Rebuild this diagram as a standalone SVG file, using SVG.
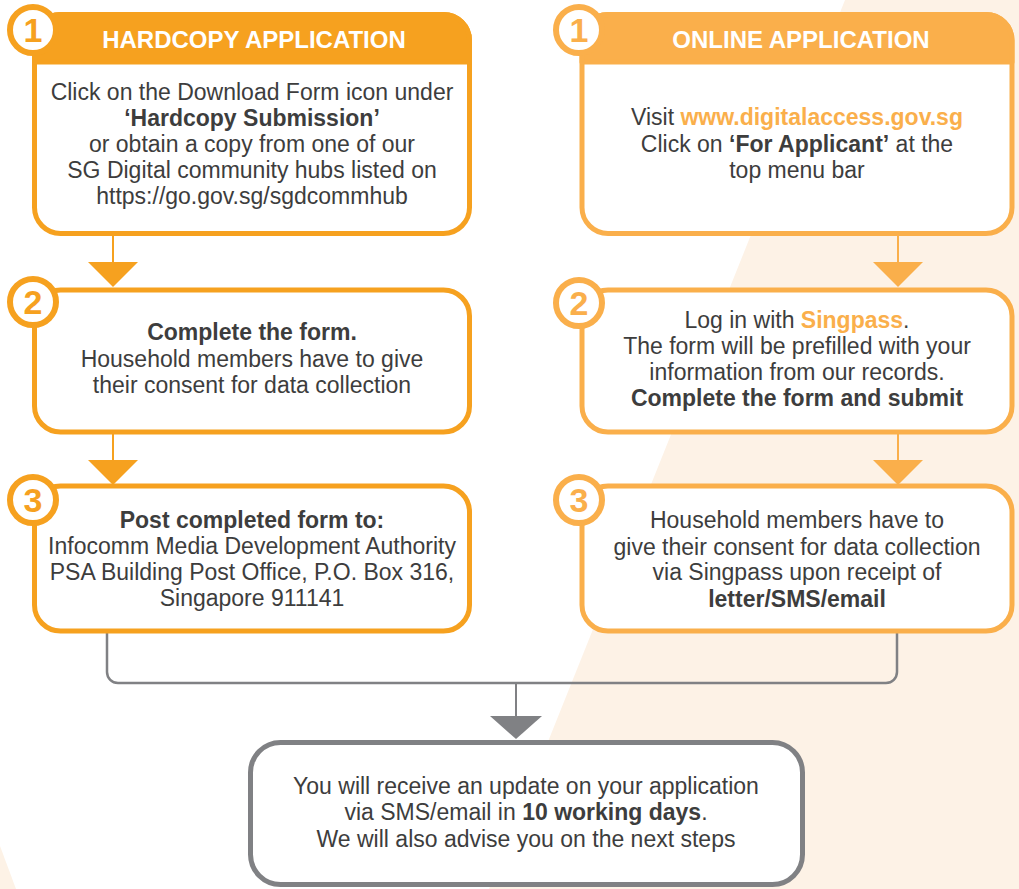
<svg xmlns="http://www.w3.org/2000/svg" width="1019" height="889" viewBox="0 0 1019 889">
<style>
.t{font-family:"Liberation Sans",Arial,sans-serif;font-size:23px;fill:#3d3d3d;text-anchor:middle}
.b{font-weight:bold}
.hd{font-family:"Liberation Sans",Arial,sans-serif;font-size:24px;font-weight:bold;fill:#ffffff;text-anchor:middle}
.num{font-family:"Liberation Sans",Arial,sans-serif;font-size:34px;font-weight:bold;text-anchor:middle}
.boxL{fill:#ffffff;stroke:#F6A11F;stroke-width:5}
.boxR{fill:#ffffff;stroke:#FAAF4B;stroke-width:5}
.circL{fill:#ffffff;stroke:#F6A11F;stroke-width:6}
.circR{fill:#ffffff;stroke:#FAAF4B;stroke-width:6}
.lnk{fill:#FAAF4B;font-weight:bold}
</style>
<rect x="0" y="0" width="1019" height="889" fill="#ffffff"/>
<polygon points="845,0 1019,0 1019,889 489,889" fill="#FDF2E6"/>
<polygon points="0,846 0,889 16,889" fill="#FDF2E6"/>

<g id="connectors">
  <line x1="113" y1="234" x2="113" y2="263" stroke="#F6A11F" stroke-width="2"/>
  <polygon points="88,262 138,262 113,287" fill="#F6A11F"/>
  <line x1="113" y1="432" x2="113" y2="461" stroke="#F6A11F" stroke-width="2"/>
  <polygon points="88,460 138,460 113,485" fill="#F6A11F"/>
  <line x1="898" y1="234" x2="898" y2="263" stroke="#FAAF4B" stroke-width="2"/>
  <polygon points="873,262 923,262 898,287" fill="#FAAF4B"/>
  <line x1="898" y1="432" x2="898" y2="461" stroke="#FAAF4B" stroke-width="2"/>
  <polygon points="873,460 923,460 898,485" fill="#FAAF4B"/>
  <path d="M107,631 V672 a11,11 0 0 0 11,11 H886 a11,11 0 0 0 11,-11 V631" fill="none" stroke="#808184" stroke-width="2.5"/>
  <line x1="516" y1="683" x2="516" y2="717" stroke="#808184" stroke-width="2"/>
  <polygon points="490,716 542,716 516,739" fill="#808184"/>
</g>

<g id="hardcopy-1">
  <rect class="boxL" x="34.5" y="14.5" width="435" height="219" rx="26"/>
  <path d="M34.5,62 V40.5 a26,26 0 0 1 26,-26 H443.5 a26,26 0 0 1 26,26 V62 Z" fill="#F6A11F" stroke="#F6A11F" stroke-width="5" stroke-linejoin="round"/>
  <text class="hd" x="254" y="48">HARDCOPY APPLICATION</text>
  <circle class="circL" cx="33" cy="30" r="23"/>
  <text class="num" x="33" y="42" fill="#F6A11F">1</text>
  <text class="t" x="252" y="100">Click on the Download Form icon under</text>
  <text class="t b" x="252" y="126">‘Hardcopy Submission’</text>
  <text class="t" x="252" y="152">or obtain a copy from one of our</text>
  <text class="t" x="252" y="178">SG Digital community hubs listed on</text>
  <text class="t" x="252" y="204">https://go.gov.sg/sgdcommhub</text>
</g>

<g id="hardcopy-2">
  <rect class="boxL" x="34.5" y="290" width="435" height="142" rx="26"/>
  <circle class="circL" cx="33" cy="302" r="23"/>
  <text class="num" x="33" y="314" fill="#F6A11F">2</text>
  <text class="t b" x="252" y="340">Complete the form.</text>
  <text class="t" x="252" y="367">Household members have to give</text>
  <text class="t" x="252" y="393">their consent for data collection</text>
</g>

<g id="hardcopy-3">
  <rect class="boxL" x="34.5" y="486" width="435" height="145" rx="26"/>
  <circle class="circL" cx="33" cy="500" r="23"/>
  <text class="num" x="33" y="512" fill="#F6A11F">3</text>
  <text class="t b" x="252" y="528">Post completed form to:</text>
  <text class="t" x="252" y="554">Infocomm Media Development Authority</text>
  <text class="t" x="252" y="580">PSA Building Post Office, P.O. Box 316,</text>
  <text class="t" x="252" y="606">Singapore 911141</text>
</g>

<g id="online-1">
  <rect class="boxR" x="582" y="14.5" width="430" height="219" rx="26"/>
  <path d="M582,62 V40.5 a26,26 0 0 1 26,-26 H986 a26,26 0 0 1 26,26 V62 Z" fill="#FAAF4B" stroke="#FAAF4B" stroke-width="5" stroke-linejoin="round"/>
  <text class="hd" x="801" y="48">ONLINE APPLICATION</text>
  <circle class="circR" cx="579" cy="30" r="23"/>
  <text class="num" x="579" y="42" fill="#FAAF4B">1</text>
  <text class="t" x="797" y="125">Visit <tspan class="lnk">www.digitalaccess.gov.sg</tspan></text>
  <text class="t" x="797" y="152">Click on <tspan class="b">‘For Applicant’</tspan> at the</text>
  <text class="t" x="797" y="178">top menu bar</text>
</g>

<g id="online-2">
  <rect class="boxR" x="582" y="290" width="430" height="142" rx="26"/>
  <circle class="circR" cx="579" cy="303" r="23"/>
  <text class="num" x="579" y="315" fill="#FAAF4B">2</text>
  <text class="t" x="797" y="328">Log in with <tspan class="lnk">Singpass</tspan>.</text>
  <text class="t" x="797" y="354">The form will be prefilled with your</text>
  <text class="t" x="797" y="380">information from our records.</text>
  <text class="t b" x="797" y="406">Complete the form and submit</text>
</g>

<g id="online-3">
  <rect class="boxR" x="582" y="486" width="430" height="145" rx="26"/>
  <circle class="circR" cx="579" cy="500" r="23"/>
  <text class="num" x="579" y="512" fill="#FAAF4B">3</text>
  <text class="t" x="797" y="528">Household members have to</text>
  <text class="t" x="797" y="555">give their consent for data collection</text>
  <text class="t" x="797" y="580">via Singpass upon receipt of</text>
  <text class="t b" x="797" y="607">letter/SMS/email</text>
</g>

<g id="result">
  <rect x="250.5" y="742.5" width="552" height="142" rx="30" fill="#ffffff" stroke="#808184" stroke-width="5"/>
  <text class="t" x="526" y="794">You will receive an update on your application</text>
  <text class="t" x="526" y="820">via SMS/email in <tspan class="b">10 working days</tspan>.</text>
  <text class="t" x="526" y="847">We will also advise you on the next steps</text>
</g>
</svg>
